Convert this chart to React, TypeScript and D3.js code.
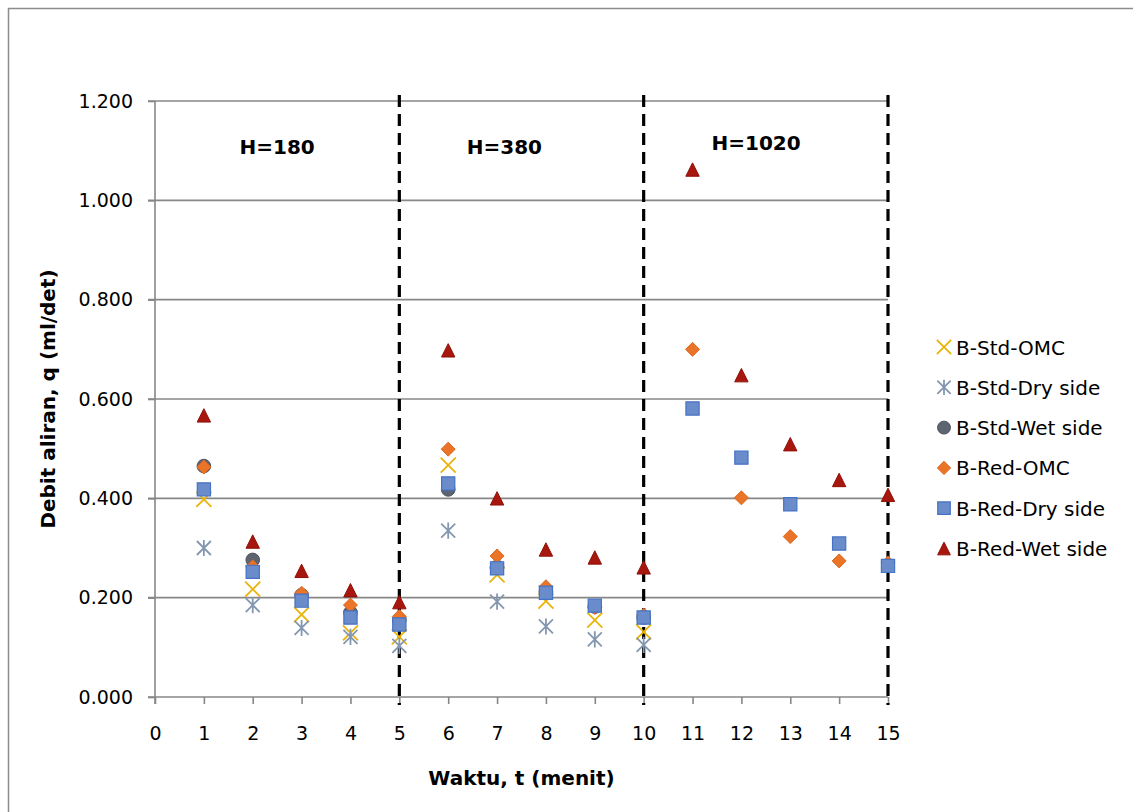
import {useEffect, useRef} from "react";
import * as d3 from "d3";

// waktu (menit)
const waktu = [1, 2, 3, 4, 5, 6, 7, 8, 9, 10, 11, 12, 13, 14, 15];

// debit aliran (ml/det) per series, null = no point
const stdOMC = [0.398, 0.217, 0.166, 0.129, 0.121, 0.467, 0.246, 0.193, 0.155, 0.131];
const stdDry = [0.300, 0.185, 0.139, 0.121, 0.103, 0.335, 0.192, 0.142, 0.116, 0.105];
const stdWet = [0.465, 0.276, 0.205, 0.170, 0.155, 0.418, 0.262, 0.212, 0.182, 0.160];
const redOMC = [0.463, 0.262, 0.209, 0.185, 0.162, 0.499, 0.284, 0.222, 0.180, 0.165, 0.700, 0.401, 0.323, 0.274, 0.270];
const redDry = [0.418, 0.252, 0.194, 0.160, 0.146, 0.430, 0.259, 0.210, 0.184, 0.160, 0.581, 0.482, 0.388, 0.309, 0.264];
const redWet = [0.567, 0.313, 0.254, 0.215, 0.191, 0.698, 0.400, 0.297, 0.281, 0.261, 1.062, 0.648, 0.509, 0.437, 0.407];

const seriesNames = ["B-Std-OMC", "B-Std-Dry side", "B-Std-Wet side", "B-Red-OMC", "B-Red-Dry side", "B-Red-Wet side"];

const xTicks = [0, 1, 2, 3, 4, 5, 6, 7, 8, 9, 10, 11, 12, 13, 14, 15];
const yTicks = [0, 0.2, 0.4, 0.6, 0.8, 1.0, 1.2];
const batas = [5, 10, 15];

const labelH = ["H=180", "H=380", "H=1020"];
const labelX = [2.5, 7.15, 12.3];
const labelY = [1.093, 1.093, 1.101];

const FONT = "'DejaVu Sans', Verdana, sans-serif";

// marker path centred on 0,0
function markerPath(shape, r) {
    if (shape === "x") return `M${-r},${-r}L${r},${r}M${-r},${r}L${r},${-r}`;
    if (shape === "star") return `M${-r},${-r}L${r},${r}M${-r},${r}L${r},${-r}M0,${-r * 1.15}L0,${r * 1.15}`;
    if (shape === "circle") return d3.symbol(d3.symbolCircle, Math.PI * r * r)();
    if (shape === "diamond") return `M0,${-r}L${r},0L0,${r}L${-r},0Z`;
    if (shape === "square") return `M${-r},${-r}H${r}V${r}H${-r}Z`;
    return `M0,${-r}L${r},${r}L${-r},${r}Z`;
}

const styles = [
    {shape: "x", r: 7.5, fill: "none", stroke: "#E9B30A", sw: 1.8},
    {shape: "star", r: 7, fill: "none", stroke: "#8497B0", sw: 1.8},
    {shape: "circle", r: 6.8, fill: "#5D6570", stroke: "#4D545E", sw: 1},
    {shape: "diamond", r: 7, fill: "#EA7428", stroke: "#DD6820", sw: 1},
    {shape: "square", r: 6.6, fill: "#6A8CCB", stroke: "#4472C4", sw: 1.2},
    {shape: "triangle", r: 6.7, fill: "#A8170D", stroke: "#8E1008", sw: 1},
];

function App() {
    const ref = useRef();

    useEffect(() => {
        const svg = d3.select(ref.current);
        svg.selectAll("*").remove();

        const x = d3.scaleLinear().domain([0, 15]).range([155, 888]);
        const y = d3.scaleLinear().domain([0, 1.2]).range([697, 101]);

        // outer chart frame
        svg.append("rect")
            .attr("x", 8.5).attr("y", 8.5)
            .attr("width", 1200).attr("height", 900)
            .attr("fill", "#fff").attr("stroke", "#8c8c8c").attr("stroke-width", 1.5);

        // gridlines
        svg.append("g").selectAll("line")
            .data(yTicks)
            .enter().append("line")
            .attr("x1", 148).attr("x2", x(15))
            .attr("y1", d => y(d)).attr("y2", d => y(d))
            .attr("stroke", "#878787").attr("stroke-width", 1.6);

        // y axis
        const yAxis = svg.append("g")
            .attr("transform", `translate(${x(0)},0)`)
            .call(d3.axisLeft(y).tickValues(yTicks).tickFormat(d3.format(".3f")).tickSize(7).tickPadding(15));
        yAxis.select(".domain").attr("stroke", "#878787").attr("stroke-width", 1.6).attr("d", `M0,${y(1.2)}V${y(0) + 7}`);
        yAxis.selectAll(".tick line").attr("stroke", "#878787").attr("stroke-width", 1.6);
        yAxis.selectAll("text").style("font-family", FONT).style("font-size", "19px").attr("fill", "#000");

        // x axis
        const xAxis = svg.append("g")
            .attr("transform", `translate(0,${y(0)})`)
            .call(d3.axisBottom(x).tickValues(xTicks).tickFormat(d3.format("d")).tickSize(7).tickPadding(23));
        xAxis.select(".domain").remove();
        xAxis.selectAll(".tick line").attr("stroke", "#878787").attr("stroke-width", 1.6);
        xAxis.selectAll("text").style("font-family", FONT).style("font-size", "19px").attr("fill", "#000");

        // dashed boundaries
        svg.append("g").selectAll("line")
            .data(batas)
            .enter().append("line")
            .attr("x1", d => x(d)).attr("x2", d => x(d))
            .attr("y1", y(1.2) - 6).attr("y2", y(0) + 8)
            .attr("stroke", "#000").attr("stroke-width", 3.2)
            .attr("stroke-dasharray", "12,7");

        // H labels
        svg.append("g").selectAll("text")
            .data(labelH)
            .enter().append("text")
            .attr("x", (d, i) => x(labelX[i]))
            .attr("y", (d, i) => y(labelY[i]))
            .attr("text-anchor", "middle")
            .style("font-family", FONT).style("font-size", "20px").style("font-weight", "bold")
            .text(d => d);

        // points
        const allSeries = [stdOMC, stdDry, stdWet, redOMC, redDry, redWet];
        allSeries.forEach((vals, i) => {
            const st = styles[i];
            svg.append("g").selectAll("path")
                .data(vals.map((v, j) => ({t: waktu[j], v})).filter(d => d.v != null))
                .enter().append("path")
                .attr("d", markerPath(st.shape, st.r))
                .attr("transform", d => `translate(${x(d.t)},${y(d.v)})`)
                .attr("fill", st.fill).attr("stroke", st.stroke).attr("stroke-width", st.sw);
        });

        // legend
        const legend = svg.append("g").attr("transform", "translate(944,347)");
        const rows = legend.selectAll("g")
            .data(seriesNames)
            .enter().append("g")
            .attr("transform", (d, i) => `translate(0,${i * 40.3})`);
        rows.append("path")
            .attr("d", (d, i) => markerPath(styles[i].shape, styles[i].r * 0.95))
            .attr("fill", (d, i) => styles[i].fill)
            .attr("stroke", (d, i) => styles[i].stroke)
            .attr("stroke-width", (d, i) => styles[i].sw);
        rows.append("text")
            .attr("x", 12).attr("y", 7.5)
            .style("font-family", FONT).style("font-size", "20px")
            .text(d => d);

        // axis titles
        svg.append("text")
            .attr("x", (x(0) + x(15)) / 2).attr("y", 785)
            .attr("text-anchor", "middle")
            .style("font-family", FONT).style("font-size", "20px").style("font-weight", "bold")
            .text("Waktu, t (menit)");
        svg.append("text")
            .attr("transform", `translate(55,${(y(0) + y(1.2)) / 2}) rotate(-90)`)
            .attr("text-anchor", "middle")
            .style("font-family", FONT).style("font-size", "20px").style("font-weight", "bold")
            .text("Debit aliran, q (ml/det)");
    }, []);

    return <svg ref={ref} width={1133} height={812}
                style={{position: "absolute", left: 0, top: 0, background: "#fff"}}></svg>
}

export default App;
